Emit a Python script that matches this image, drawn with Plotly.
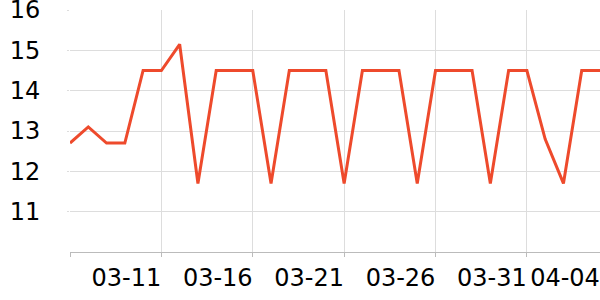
import plotly.graph_objects as go
import pandas as pd

dates = pd.date_range("2024-03-06", "2024-04-04", freq="D").strftime("%Y-%m-%d").tolist()
values = [12.7, 13.1, 12.7, 12.7, 14.5, 14.5, 15.15, 11.7, 14.5, 14.5,
          14.5, 11.7, 14.5, 14.5, 14.5, 11.7, 14.5, 14.5, 14.5, 11.7,
          14.5, 14.5, 14.5, 11.7, 14.5, 14.5, 12.8, 11.7, 14.5, 14.5]
x_tick_vals = ["2024-03-06", "2024-03-11", "2024-03-16", "2024-03-21", "2024-03-26", "2024-03-31", "2024-04-04"]
x_tick_text = ["", "03-11", "03-16", "03-21", "03-26", "03-31", "04-04"]
y_tick_vals = [11, 12, 13, 14, 15, 16]

fig = go.Figure(go.Scatter(
    x=dates, y=values, mode="lines",
    line=dict(color="#ee4a2c", width=3),
    hoverinfo="skip",
))

fig.update_layout(
    width=600, height=300,
    margin=dict(l=70, r=0, t=10, b=48),
    paper_bgcolor="white", plot_bgcolor="white",
    showlegend=False,
    font=dict(family="DejaVu Sans", size=24, color="black"),
)
fig.update_xaxes(
    type="date", range=[dates[0], dates[-1]],
    tickvals=x_tick_vals, ticktext=x_tick_text,
    showgrid=True, gridcolor="#dddddd", gridwidth=1,
    showline=True, linecolor="#bbbbbb", linewidth=1,
    ticks="outside", ticklen=4, tickcolor="#bbbbbb",
    ticklabelshift=-35, ticklabelstandoff=0,
    ticklabeloverflow="allow", automargin=False,
    zeroline=False,
)
fig.update_yaxes(
    range=[10, 16], tickvals=y_tick_vals,
    showgrid=True, gridcolor="#dddddd", gridwidth=1,
    showline=False,
    ticks="outside", ticklen=2, tickcolor="#dddddd",
    ticklabelstandoff=22,
    ticklabeloverflow="allow", automargin=False,
    zeroline=False,
)

fig.write_html("out.html")
